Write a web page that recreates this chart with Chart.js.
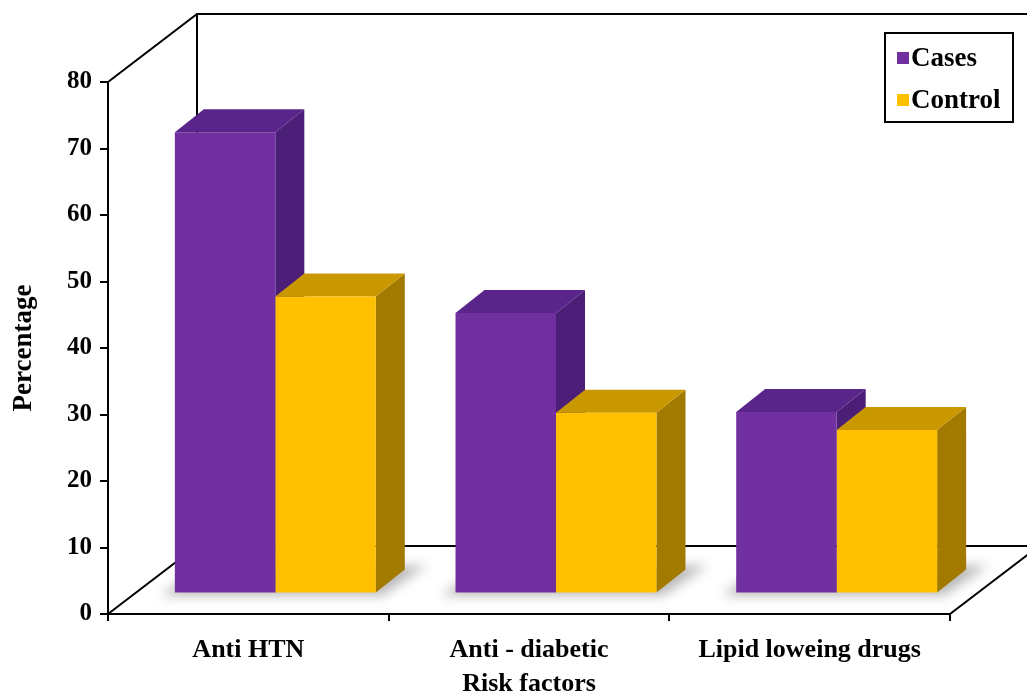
<!DOCTYPE html>
<html>
<head>
<meta charset="utf-8">
<script src="https://cdn.jsdelivr.net/npm/chart.js@4.4.1/dist/chart.umd.min.js"></script>
<style>
  html, body { margin: 0; padding: 0; background: #fff; }
  canvas { display: block; }
</style>
</head>
<body>
<canvas id="riskChart" width="1027" height="700"></canvas>
<script>
// data
const categories = ['Anti HTN', 'Anti - diabetic', 'Lipid loweing drugs'];
const seriesNames = ['Cases', 'Control'];
const casesValues = [69.3, 42.1, 27.2];
const controlValues = [44.6, 27.1, 24.5];
const yMin = 0, yMax = 80, yStep = 10;

// look
const FONT = "'Liberation Serif', 'Times New Roman', serif";
const frontColors = ['#7030A0', '#FFC000'];
const sideColors = ['#4B1E78', '#A37A00'];
const topColors = ['#5A258A', '#C99700'];

// fake 3d: depth of the walls, where bars sit in depth and how deep they are
const WALL = { x: 89, y: -68 };
const BAR_SHIFT = { x: 27, y: -21 };
const BAR_DEPTH = { x: 29, y: -23 };

function poly(ctx, pts, fill) {
  ctx.beginPath();
  ctx.moveTo(pts[0][0], pts[0][1]);
  for (let i = 1; i < pts.length; i++) ctx.lineTo(pts[i][0], pts[i][1]);
  ctx.closePath();
  ctx.fillStyle = fill;
  ctx.fill();
}

const depthPlugin = {
  id: 'depth3d',
  beforeDatasetsDraw(chart) {
    const { ctx, chartArea: a } = chart;

    // walls and floor
    ctx.save();
    ctx.strokeStyle = '#000';
    ctx.lineWidth = 2;
    ctx.beginPath();
    ctx.moveTo(a.left, a.top);
    ctx.lineTo(a.left + WALL.x, a.top + WALL.y);
    ctx.lineTo(a.right + WALL.x + 20, a.top + WALL.y);
    ctx.moveTo(a.left + WALL.x, a.top + WALL.y);
    ctx.lineTo(a.left + WALL.x, a.bottom + WALL.y);
    ctx.moveTo(a.left, a.bottom);
    ctx.lineTo(a.left + WALL.x, a.bottom + WALL.y);
    ctx.lineTo(a.right + WALL.x, a.bottom + WALL.y);
    ctx.lineTo(a.right, a.bottom);
    ctx.stroke();

    // tick marks on the value axis
    const y = chart.scales.y;
    ctx.beginPath();
    y.ticks.forEach(t => {
      const py = Math.round(y.getPixelForValue(t.value));
      ctx.moveTo(a.left - 8, py);
      ctx.lineTo(a.left, py);
    });
    ctx.stroke();
    ctx.restore();

    ctx.save();
    ctx.translate(BAR_SHIFT.x, BAR_SHIFT.y);

    // soft shadow on the floor behind each group
    const first = chart.getDatasetMeta(0).data;
    const last = chart.getDatasetMeta(chart.data.datasets.length - 1).data;
    ctx.save();
    ctx.filter = 'blur(6px)';
    first.forEach((bar, i) => {
      const p0 = bar.getProps(['x', 'y', 'base', 'width'], true);
      const p1 = last[i].getProps(['x', 'y', 'base', 'width'], true);
      const L = p0.x - p0.width / 2, R = p1.x + p1.width / 2, B = p0.base;
      poly(ctx, [[L - 14, B + 3], [R + 6, B + 3], [R + BAR_DEPTH.x + 22, B + BAR_DEPTH.y - 4],
                 [L + BAR_DEPTH.x, B + BAR_DEPTH.y - 4]], 'rgba(0,0,0,0.28)');
    });
    ctx.restore();

    // side and top faces, drawn before the front faces the library paints
    chart.data.datasets.forEach((ds, di) => {
      chart.getDatasetMeta(di).data.forEach(bar => {
        const p = bar.getProps(['x', 'y', 'base', 'width'], true);
        const L = p.x - p.width / 2, R = p.x + p.width / 2, T = p.y, B = p.base;
        const dx = BAR_DEPTH.x, dy = BAR_DEPTH.y;
        poly(ctx, [[R, T], [R + dx, T + dy], [R + dx, B + dy], [R, B]], sideColors[di]);
        poly(ctx, [[L, T], [L + dx, T + dy], [R + dx, T + dy], [R, T]], topColors[di]);
      });
    });
  },
  afterDatasetsDraw(chart) {
    chart.ctx.restore();
  },
  afterDraw(chart) {
    // boxed legend, top right
    const { ctx } = chart;
    const boxL = 885, boxT = 33, boxW = 128, boxH = 89;
    ctx.save();
    ctx.strokeStyle = '#000';
    ctx.lineWidth = 2;
    ctx.strokeRect(boxL, boxT, boxW, boxH);
    ctx.font = 'bold 27px ' + FONT;
    ctx.textBaseline = 'middle';
    ctx.textAlign = 'left';
    chart.data.datasets.forEach((ds, i) => {
      const cy = boxT + 25 + i * 42;
      ctx.fillStyle = ds.backgroundColor;
      ctx.fillRect(boxL + 12, cy - 6, 12, 12);
      ctx.fillStyle = '#000';
      ctx.fillText(ds.label, boxL + 26, cy + 1);
    });
    ctx.restore();
  }
};

new Chart(document.getElementById('riskChart'), {
  type: 'bar',
  data: {
    labels: categories,
    datasets: [
      { label: seriesNames[0], data: casesValues, backgroundColor: frontColors[0] },
      { label: seriesNames[1], data: controlValues, backgroundColor: frontColors[1] }
    ]
  },
  options: {
    responsive: false,
    devicePixelRatio: 1,
    animation: false,
    clip: false,
    categoryPercentage: 0.716,
    barPercentage: 1.0,
    layout: { padding: { left: 0, top: 82, right: 77, bottom: 0 } },
    plugins: {
      legend: { display: false },
      tooltip: { enabled: false }
    },
    scales: {
      x: {
        afterFit: s => { s.height = 86; },
        grid: { drawOnChartArea: false, drawTicks: true, tickLength: 7, color: '#000', lineWidth: 2, offset: true },
        border: { display: true, color: '#000', width: 2 },
        ticks: { color: '#000', padding: 14, font: { family: FONT, size: 26, weight: 'bold' } },
        title: {
          display: true, text: 'Risk factors', color: '#000',
          padding: { top: 0, bottom: 0 },
          font: { family: FONT, size: 26, weight: 'bold', lineHeight: 1.2 }
        }
      },
      y: {
        min: yMin, max: yMax,
        afterFit: s => { s.width = 108; },
        grid: { drawOnChartArea: false, drawTicks: false },
        border: { display: true, color: '#000', width: 2 },
        ticks: { stepSize: yStep, color: '#000', padding: 16, font: { family: FONT, size: 25, weight: 'bold' } },
        title: {
          display: true, text: 'Percentage', color: '#000',
          padding: { top: 8, bottom: 0 },
          font: { family: FONT, size: 27, weight: 'bold', lineHeight: 1.2 }
        }
      }
    }
  },
  plugins: [depthPlugin]
});
</script>
</body>
</html>
